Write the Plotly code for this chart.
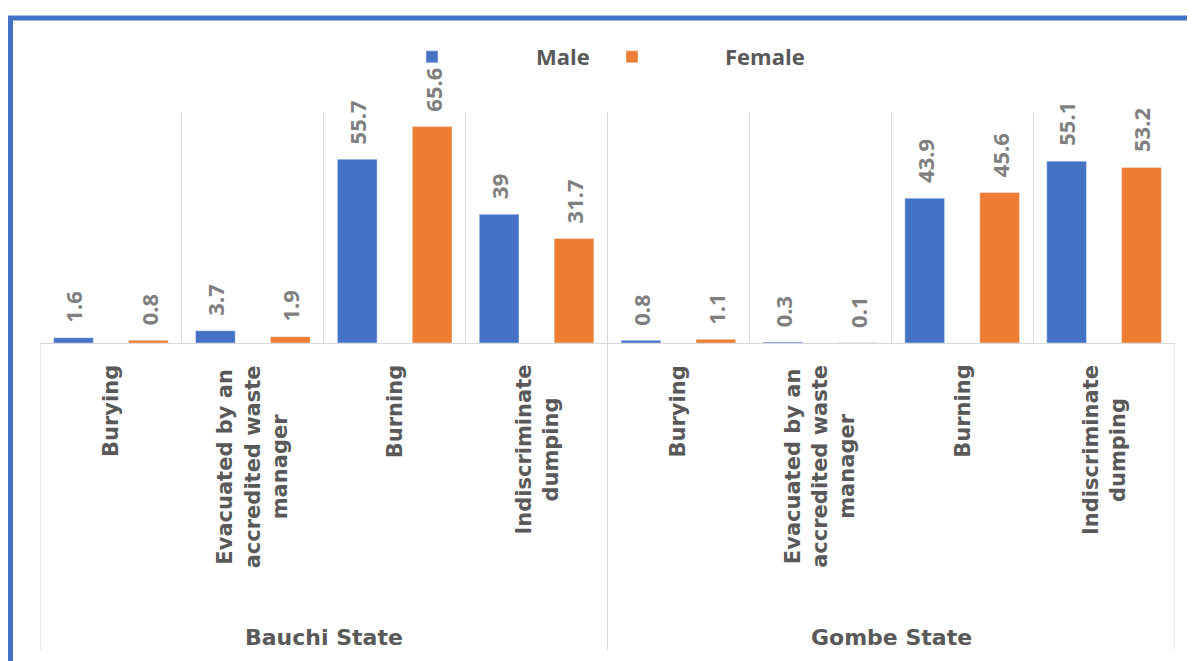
import plotly.graph_objects as go

states = ["Bauchi State", "Gombe State"]
methods = ["Burying", "Evacuated by an<br>accredited waste<br>manager", "Burning", "Indiscriminate<br>dumping"]
male = [1.6, 3.7, 55.7, 39, 0.8, 0.3, 43.9, 55.1]
female = [0.8, 1.9, 65.6, 31.7, 1.1, 0.1, 45.6, 53.2]

BLUE = "#4472C4"
ORANGE = "#ED7D31"
# page body has an 8px margin, so the figure is sized/offset accordingly
W, H = 1187, 653
L, R, T, B = 32, 20, 104, 318

n = len(states) * len(methods)
xs = list(range(n))
bw = 0.28
half = 0.264

fig = go.Figure()
fig.add_trace(go.Bar(x=xs, y=male, name="Male", marker_color=BLUE, width=bw,
                     offset=-half - bw / 2, legend="legend"))
fig.add_trace(go.Bar(x=xs, y=female, name="Female", marker_color=ORANGE, width=bw,
                     offset=half - bw / 2, legend="legend2"))

ann = []
lab_font = dict(family="Open Sans", size=22, color="#7F7F7F", weight="bold")
for i in xs:
    for val, sh in ((male[i], -half), (female[i], half)):
        ann.append(dict(x=i + sh, y=val, xref="x", yref="y", text=str(val), textangle=-90,
                        showarrow=False, yanchor="bottom", xanchor="center", yshift=13,
                        font=lab_font))

cat_font = dict(family="DejaVu Sans", size=21, color="#595959", weight="bold")
for gi, st in enumerate(states):
    for mi, m in enumerate(methods):
        i = gi * len(methods) + mi
        ann.append(dict(x=i, y=0, xref="x", yref="y", text=m, textangle=-90, align="center",
                        showarrow=False, yanchor="top", xanchor="center", yshift=-20,
                        font=cat_font))
    ann.append(dict(x=gi * len(methods) + (len(methods) - 1) / 2, y=0, xref="x", yref="y",
                    text=st, showarrow=False, yanchor="middle", xanchor="center", yshift=-294,
                    font=dict(family="DejaVu Sans", size=22, color="#595959", weight="bold")))

shapes = []
plot_h = H - T - B
base_px = H - B
for g in range(len(states) + 1):
    xb = g * len(methods) - 0.5
    shapes.append(dict(type="line", xref="x", yref="paper", x0=xb, x1=xb, y0=0,
                       y1=-(642 - base_px) / plot_h, line=dict(color="#D9D9D9", width=1)))
plot_w = W - L - R
shapes.append(dict(type="rect", xref="paper", yref="paper",
                   x0=(2.5 - L) / plot_w, x1=(W + 40 - L) / plot_w,
                   y0=-(H + 40 - base_px) / plot_h, y1=(base_px - 10) / plot_h,
                   line=dict(color=BLUE, width=5), fillcolor="rgba(0,0,0,0)", layer="above"))

leg_font = dict(family="Open Sans", size=22, color="#595959", weight="bold")
fig.update_layout(
    width=W, height=H, margin=dict(l=L, r=R, t=T, b=B),
    paper_bgcolor="white", plot_bgcolor="white",
    barmode="overlay",
    showlegend=True,
    legend=dict(x=320 / W, y=1 - 28 / H, xref="container", yref="container", xanchor="left",
                yanchor="top", orientation="h", itemwidth=198, font=leg_font,
                bgcolor="rgba(0,0,0,0)"),
    legend2=dict(x=531 / W, y=1 - 28 / H, xref="container", yref="container", xanchor="left",
                 yanchor="top", orientation="h", itemwidth=176, font=leg_font,
                 bgcolor="rgba(0,0,0,0)"),
    xaxis=dict(range=[-0.5, n - 0.5], tickvals=[k - 0.5 for k in range(n + 1)],
               showticklabels=False, showgrid=True, gridcolor="#D9D9D9", gridwidth=1,
               zeroline=False, showline=True, linecolor="#D9D9D9", ticks=""),
    yaxis=dict(range=[0, 70], visible=False),
    annotations=ann, shapes=shapes,
)
fig.write_html("out.html")
